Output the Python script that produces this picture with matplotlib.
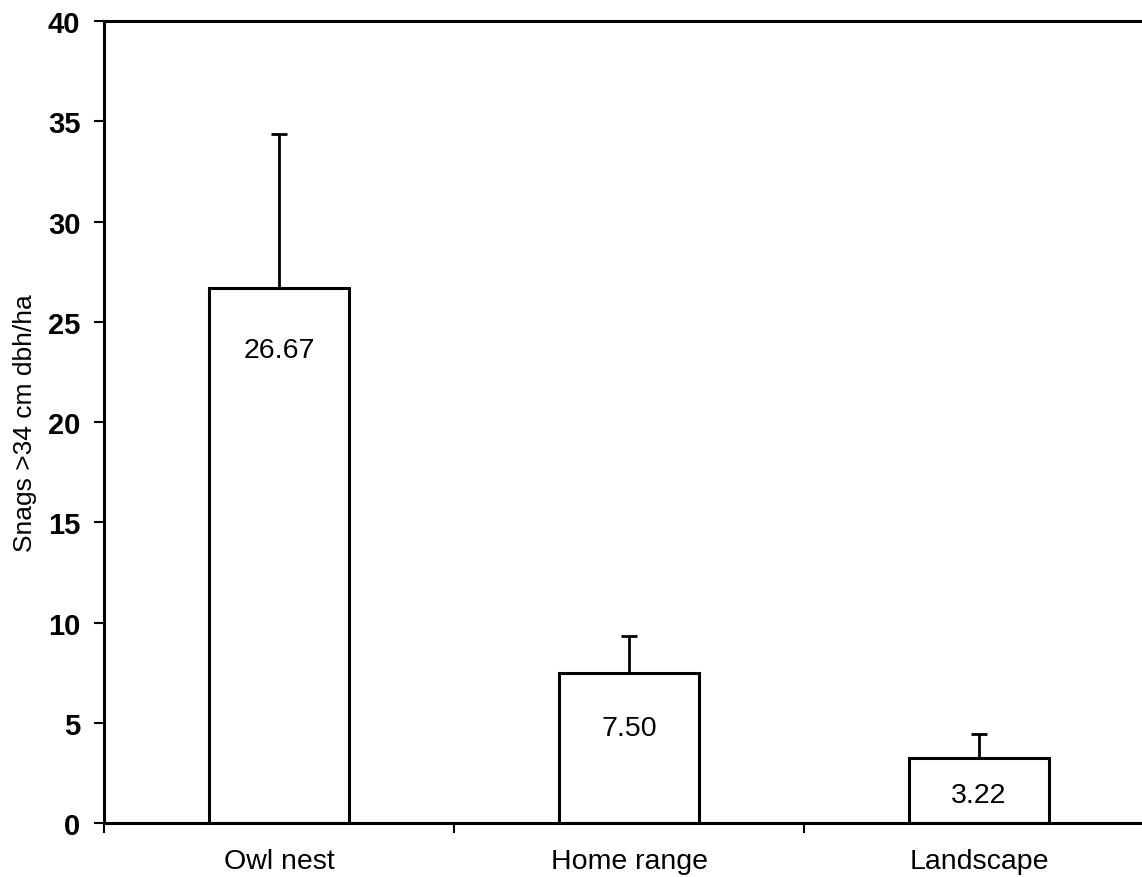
import numpy as np
import matplotlib.pyplot as plt

plt.rcParams['font.family'] = ['Liberation Sans', 'DejaVu Sans']

# mean snag density with the upper error bar
sites = ['Owl nest', 'Home range', 'Landscape']
snags = [26.67, 7.50, 3.22]
snags_err = [7.7, 1.85, 1.2]

fig = plt.figure(figsize=(11.42, 8.78), dpi=100)
ax = fig.add_axes([0.0911, 0.0615, 1.0105 - 0.0911, 0.9134])

x = np.arange(len(sites))
ax.bar(x, snags, 0.4, color='white', edgecolor='black', linewidth=2.2, zorder=2)
ax.errorbar(x, snags, yerr=[np.zeros(len(snags)), snags_err], fmt='none',
            ecolor='black', elinewidth=2, capsize=6, capthick=2, zorder=1)

# value printed inside each bar, a little below its top
drop = [3.1, 2.75, 1.8]
for xi, v, d in zip(x, snags, drop):
    ax.text(xi, v - d, '%.2f' % v, ha='center', va='center', fontsize=20.5)

ax.set_xlim(-0.5, 2.5)
ax.set_ylim(0, 40)
ax.set_yticks(range(0, 41, 5))
ax.set_yticklabels([str(t) for t in range(0, 41, 5)], fontsize=21, fontweight='bold')
ax.set_xticks(x)
ax.set_xticklabels(sites, fontsize=20.5)
ax.set_xticks([-0.5, 0.5, 1.5, 2.5], minor=True)
ax.tick_params(axis='x', which='major', length=0, pad=18)
ax.tick_params(axis='x', which='minor', length=7, width=1.5, direction='out')
ax.tick_params(axis='y', length=7, width=1.5, pad=10)

ax.set_ylabel('Snags >34 cm dbh/ha', fontsize=19, labelpad=8)

for s in ax.spines.values():
    s.set_linewidth(2.2)
ax.spines['right'].set_visible(False)

fig.savefig('out.png', dpi=100)
